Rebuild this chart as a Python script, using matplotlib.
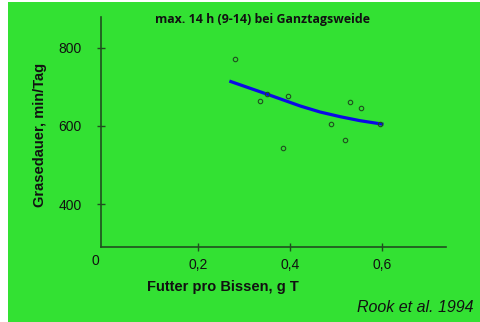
import matplotlib
matplotlib.use("Agg")
import matplotlib.pyplot as plt
from matplotlib.patches import Rectangle

# Data
scatter_x = [0.28, 0.35, 0.335, 0.395, 0.385, 0.49, 0.52, 0.53, 0.555, 0.595]
scatter_y = [772, 682, 664, 677, 545, 606, 565, 662, 647, 606]
curve_x = [0.268, 0.349, 0.422, 0.465, 0.509, 0.552, 0.603]
curve_y = [714.6, 681.5, 651, 635.7, 623.7, 613.5, 604.3]
xticks = [0.2, 0.4, 0.6]
xticklabels = ["0,2", "0,4", "0,6"]
yticks = [400, 600, 800]
yticklabels = ["400", "600", "800"]

W, H = 481, 322
GREEN = "#33e133"
AXC = "#1f4f1f"
TXT = "#111111"

fig = plt.figure(figsize=(W / 100, H / 100), dpi=100, facecolor="white")
fig.patches.append(Rectangle((8 / W, 0), 1 - 8 / W, (H - 2) / H, transform=fig.transFigure,
                             facecolor=GREEN, edgecolor="none", zorder=-10))

def fx(px):
    return px / W

def fy(py):
    return 1 - py / H

ax = fig.add_axes([fx(101), fy(246.7), fx(446) - fx(101), fy(17) - fy(246.7)])
ax.set_facecolor("none")
ax.set_xlim(-0.011, 0.739)
ax.set_ylim(292, 878)

for s in ["top", "right"]:
    ax.spines[s].set_visible(False)
for s in ["left", "bottom"]:
    ax.spines[s].set_color(AXC)
    ax.spines[s].set_linewidth(1.2)

ax.set_xticks(xticks)
ax.set_xticklabels(xticklabels)
ax.set_yticks(yticks)
ax.set_yticklabels(yticklabels)
ax.tick_params(axis="x", direction="inout", length=6, width=1, color=AXC, pad=5,
               labelsize=10, labelcolor=TXT)
ax.tick_params(axis="y", direction="inout", length=6, width=1, color=AXC, pad=11,
               labelsize=10, labelcolor=TXT)
for lab in ax.get_xticklabels() + ax.get_yticklabels():
    lab.set_family("Liberation Sans")

ax.plot(curve_x, curve_y, color="#0a0ae6", linewidth=2.3, solid_capstyle="butt", zorder=2)
ax.plot(scatter_x, scatter_y, linestyle="none", marker="o", markersize=3.2,
        markerfacecolor="none", markeredgecolor="#1f4f1f", markeredgewidth=0.8, zorder=3)

fig.text(fx(95), fy(261), "0", ha="center", va="center", fontsize=10,
         family="Liberation Sans", color=TXT)
fig.text(fx(263), fy(20), "max. 14 h (9-14) bei Ganztagsweide", ha="center", va="center",
         fontsize=8.9, fontweight="bold", family="Open Sans", color=TXT)
fig.text(fx(40), fy(135), "Grasedauer, min/Tag", ha="center", va="center", rotation=90,
         fontsize=10.5, fontweight="bold", family="Liberation Sans", color=TXT)
fig.text(fx(223), fy(287), "Futter pro Bissen, g T", ha="center", va="center",
         fontsize=10.5, fontweight="bold", family="Liberation Sans", color=TXT)
fig.text(fx(474), fy(308), "Rook et al. 1994", ha="right", va="center",
         fontsize=11.5, style="italic", family="Liberation Sans", color=TXT)

fig.savefig("out.png", dpi=100, facecolor="white")
